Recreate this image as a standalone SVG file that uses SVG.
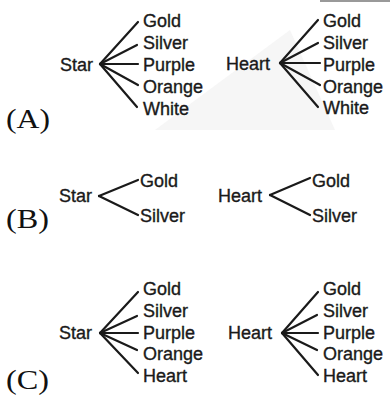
<svg xmlns="http://www.w3.org/2000/svg" width="390" height="396" viewBox="0 0 390 396">
<style>
.t{font-family:"Liberation Sans",Arial,sans-serif;font-size:18px;fill:#1a1a1a;stroke:#1a1a1a;stroke-width:0.35}
.l{font-family:"Liberation Serif","Times New Roman",serif;font-size:27px;fill:#111}
.c line{stroke:#1a1a1a;stroke-width:2.2;stroke-linecap:round}
</style>
<rect width="390" height="396" fill="#fff"/>
<polygon points="155,130 290,30 335,130" fill="#f6f6f6"/>
<rect x="320" y="0" width="70" height="2" fill="#999"/>
<g id="labelA"><text class="l" x="6" y="128" textLength="44" lengthAdjust="spacingAndGlyphs">(A)</text></g>
<g id="labelB"><text class="l" x="6" y="228" textLength="43" lengthAdjust="spacingAndGlyphs">(B)</text></g>
<g id="labelC"><text class="l" x="6" y="389" textLength="43" lengthAdjust="spacingAndGlyphs">(C)</text></g>
<g class="c" id="connectors">
<line x1="100" y1="64" x2="138" y2="22"/>
<line x1="100" y1="64" x2="137" y2="45"/>
<line x1="100" y1="64" x2="138" y2="64"/>
<line x1="100" y1="64" x2="138" y2="85"/>
<line x1="100" y1="64" x2="137" y2="107"/>
<line x1="280" y1="63" x2="318" y2="20"/>
<line x1="280" y1="63" x2="318" y2="43"/>
<line x1="280" y1="63" x2="320" y2="63"/>
<line x1="280" y1="63" x2="320" y2="85"/>
<line x1="280" y1="63" x2="318" y2="107"/>
<line x1="99" y1="196" x2="138" y2="180"/>
<line x1="99" y1="196" x2="138" y2="215"/>
<line x1="270" y1="195" x2="310" y2="178"/>
<line x1="270" y1="195" x2="310" y2="215"/>
<line x1="100" y1="333" x2="138" y2="292"/>
<line x1="100" y1="333" x2="137" y2="316"/>
<line x1="100" y1="333" x2="138" y2="333"/>
<line x1="100" y1="333" x2="137" y2="350"/>
<line x1="100" y1="333" x2="138" y2="373"/>
<line x1="282" y1="333" x2="318" y2="292"/>
<line x1="282" y1="333" x2="317" y2="315"/>
<line x1="282" y1="333" x2="318" y2="333"/>
<line x1="282" y1="333" x2="317" y2="350"/>
<line x1="282" y1="333" x2="318" y2="375"/>
</g>
<g id="A-star"><text class="t" x="60" y="71">Star</text></g>
<g id="A-star-gold"><text class="t" x="143" y="27">Gold</text></g>
<g id="A-star-silver"><text class="t" x="143" y="49">Silver</text></g>
<g id="A-star-purple"><text class="t" x="143" y="71">Purple</text></g>
<g id="A-star-orange"><text class="t" x="143" y="93">Orange</text></g>
<g id="A-star-white"><text class="t" x="143" y="115">White</text></g>
<g id="A-heart"><text class="t" x="226" y="70">Heart</text></g>
<g id="A-heart-gold"><text class="t" x="323" y="27">Gold</text></g>
<g id="A-heart-silver"><text class="t" x="323" y="49">Silver</text></g>
<g id="A-heart-purple"><text class="t" x="323" y="71">Purple</text></g>
<g id="A-heart-orange"><text class="t" x="323" y="93">Orange</text></g>
<g id="A-heart-white"><text class="t" x="323" y="114">White</text></g>
<g id="B-star"><text class="t" x="59" y="202">Star</text></g>
<g id="B-star-gold"><text class="t" x="140" y="187">Gold</text></g>
<g id="B-star-silver"><text class="t" x="140" y="222">Silver</text></g>
<g id="B-heart"><text class="t" x="218" y="202">Heart</text></g>
<g id="B-heart-gold"><text class="t" x="312" y="187">Gold</text></g>
<g id="B-heart-silver"><text class="t" x="312" y="222">Silver</text></g>
<g id="C-star"><text class="t" x="59" y="339">Star</text></g>
<g id="C-star-gold"><text class="t" x="143" y="295">Gold</text></g>
<g id="C-star-silver"><text class="t" x="143" y="317">Silver</text></g>
<g id="C-star-purple"><text class="t" x="143" y="339">Purple</text></g>
<g id="C-star-orange"><text class="t" x="143" y="360">Orange</text></g>
<g id="C-star-heart"><text class="t" x="143" y="382">Heart</text></g>
<g id="C-heart"><text class="t" x="228" y="339">Heart</text></g>
<g id="C-heart-gold"><text class="t" x="323" y="295">Gold</text></g>
<g id="C-heart-silver"><text class="t" x="323" y="317">Silver</text></g>
<g id="C-heart-purple"><text class="t" x="323" y="339">Purple</text></g>
<g id="C-heart-orange"><text class="t" x="323" y="360">Orange</text></g>
<g id="C-heart-heart"><text class="t" x="323" y="382">Heart</text></g>
</svg>
